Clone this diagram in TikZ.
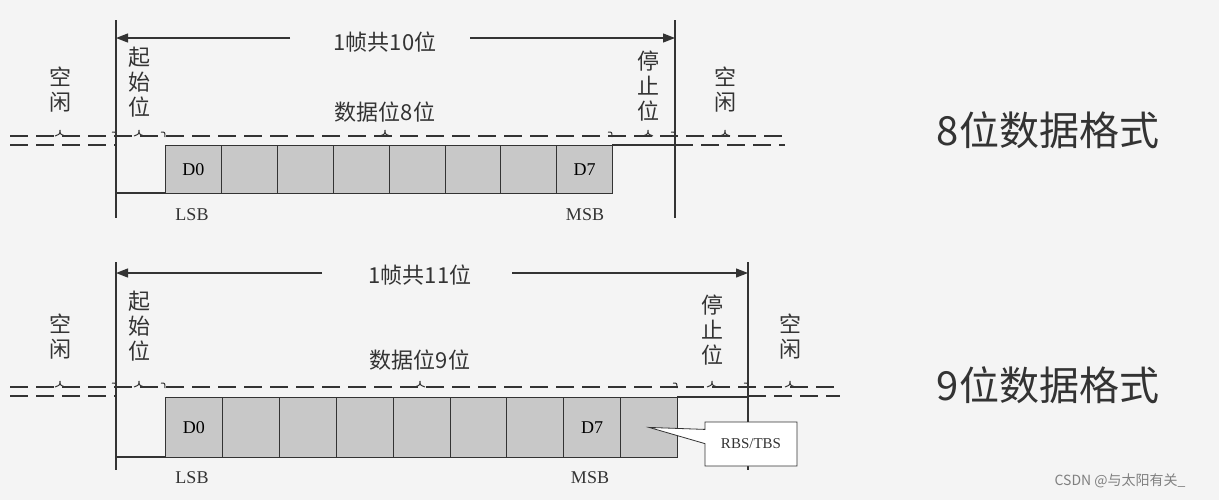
\documentclass[tikz,border=0pt]{standalone}
\usepackage{fontspec}
\setmainfont{Liberation Serif}
\newfontfamily\cjk{Noto Sans CJK SC}
\usetikzlibrary{arrows.meta,shapes.callouts}
\definecolor{bg}{HTML}{F4F4F4}
\definecolor{cell}{HTML}{C8C8C8}
\definecolor{ink}{HTML}{333333}
\tikzset{
  lbl/.style={font=\cjk\fontsize{11}{13}\selectfont, text=ink, inner sep=0pt, align=center},
  vlbl/.style={lbl, align=center, font=\cjk\fontsize{11}{12.5}\selectfont},
  title/.style={font=\cjk\fontsize{20}{24}\selectfont, text=ink},
  cellbox/.style={draw=ink, fill=cell, minimum width=28pt, minimum height=24pt, inner sep=0pt, anchor=north west, font=\fontsize{9}{10}\selectfont},
  dsh/.style={draw=ink, dashed, dash pattern=on 9pt off 4pt, line width=0.6pt},
  sol/.style={draw=ink, line width=0.6pt},
  arr/.style={sol, -{Triangle[length=6pt,width=4.5pt]}},
  tick/.style={draw=ink, line width=0.5pt},
  small/.style={font=\fontsize{9}{10}\selectfont, text=ink, inner sep=0pt}
}
\begin{document}
\begin{tikzpicture}[x=0.5pt,y=-0.5pt]
\fill[bg] (0,0) rectangle (1219,500);
\useasboundingbox (0,0) rectangle (1219,500);
% ---------- top (8 bit) ----------
\coordinate (a1) at (116,20); \coordinate (a2) at (116,218);
\coordinate (b1) at (675,20); \coordinate (b2) at (675,218);
\draw[sol] (a1) -- (a2); \draw[sol] (b1) -- (b2);
\node[lbl] (f1) at (385,42) {1帧共10位};
\coordinate (f1l) at (290,38); \coordinate (f1r) at (470,38);
\coordinate (f1a) at (116,38); \coordinate (f1b) at (675,38);
\draw[arr] (f1l) -- (f1a); \draw[arr] (f1r) -- (f1b);
\node[vlbl] (i1) at (60,90) {空\\闲};
\node[vlbl] (s1) at (139,82) {起\\始\\位};
\node[lbl] (d1) at (385,112) {数据位8位};
\node[vlbl] (p1) at (648,86) {停\\止\\位};
\node[vlbl] (j1) at (725,90) {空\\闲};
\draw[dsh] (10,136) -- (785,136);
\draw[dsh] (10,145) -- (116,145);
\draw[dsh] (675,145) -- (785,145);
\draw[sol] (116,193) -- (165,193);
\draw[sol] (612,145) -- (675,145);
\foreach \i in {0,...,7}{
  \node[cellbox,minimum width=28pt] (c1\i) at ({165+\i*55.9},145) {\ifnum\i=0 D0\fi\ifnum\i=7 D7\fi};
}
\foreach \x in {116,165,612,675}{\draw[tick] (\x-4,132) .. controls (\x,132) .. (\x,137);}
\foreach \x in {60,139,385,648,725}{\draw[tick] (\x-5,136) .. controls (\x,134) .. (\x,130) .. controls (\x,134) .. (\x+5,136);}
\node[small] (lsb1) at (192,215) {LSB};
\node[small] (msb1) at (585,215) {MSB};
\node[title] (t1) at (1048,130) {8位数据格式};
% ---------- bottom (9 bit) ----------
\coordinate (a3) at (116,262); \coordinate (a4) at (116,470);
\coordinate (b3) at (748,262); \coordinate (b4) at (748,470);
\draw[sol] (a3) -- (a4); \draw[sol] (b3) -- (b4);
\node[lbl] (f2) at (420,275) {1帧共11位};
\coordinate (f2l) at (322,273); \coordinate (f2r) at (512,273);
\coordinate (f2a) at (116,273); \coordinate (f2b) at (748,273);
\draw[arr] (f2l) -- (f2a); \draw[arr] (f2r) -- (f2b);
\node[vlbl] (i2) at (60,337) {空\\闲};
\node[vlbl] (s2) at (139,326) {起\\始\\位};
\node[lbl] (d2) at (420,360) {数据位9位};
\node[vlbl] (p2) at (712,330) {停\\止\\位};
\node[vlbl] (j2) at (790,337) {空\\闲};
\draw[dsh] (10,387) -- (840,387);
\draw[dsh] (10,396) -- (116,396);
\draw[dsh] (748,396) -- (840,396);
\draw[sol] (116,457) -- (165,457);
\draw[sol] (677,397) -- (748,397);
\foreach \i in {0,...,8}{
  \node[cellbox,minimum width=28.45pt,minimum height=30pt] (c2\i) at ({165+\i*56.9},397) {\ifnum\i=0 D0\fi\ifnum\i=7 D7\fi};
}
\foreach \x in {116,165,677,748}{\draw[tick] (\x-4,383) .. controls (\x,383) .. (\x,388);}
\foreach \x in {60,139,420,712,790}{\draw[tick] (\x-5,387) .. controls (\x,385) .. (\x,381) .. controls (\x,385) .. (\x+5,387);}
\node[small] (lsb2) at (192,478) {LSB};
\node[small] (msb2) at (590,478) {MSB};
\node[title] (t2) at (1048,385) {9位数据格式};
% callout
\node[draw=ink, fill=white, rectangle callout, callout absolute pointer={(c28.center)}, minimum width=46pt, minimum height=22pt, font=\fontsize{7.5}{9}\selectfont, text=ink] (rbs) at (751,444) {RBS/TBS};
\node[font=\fontsize{7}{8}\selectfont\cjk, text=gray] (wm) at (1120,481) {CSDN @与太阳有关\_};
\end{tikzpicture}
\end{document}
